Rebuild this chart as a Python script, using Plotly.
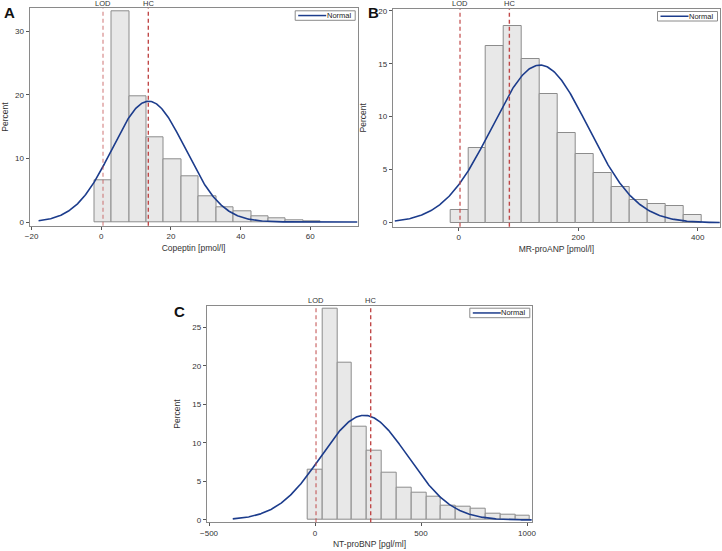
import numpy as np
import plotly.graph_objects as go

W, H = 722, 551

# ---------------- data ----------------
# Panel A: Copeptin
a_centers = [0.5, 5.5, 10.5, 15.5, 20.5, 25.5, 30.5, 35.5, 40.5, 45.5, 50.5, 55.5, 60.5]
a_percent = [6.54, 33.2, 19.7, 13.3, 9.84, 7.2, 4.03, 2.3, 1.68, 0.94, 0.58, 0.31, 0.16]
a_binw = 5
a_mean, a_sd = 13.6, 10.5
a_lod, a_hc = 0.5, 13.5

# Panel B: MR-proANP
b_centers = [1, 31, 61, 91, 121, 151, 181, 211, 241, 271, 301, 331, 361, 391]
b_percent = [1.16, 7.01, 16.63, 18.55, 15.41, 12.1, 8.43, 6.45, 4.65, 3.4, 2.1, 1.73, 1.54, 0.69]
b_binw = 30
b_mean, b_sd = 136, 80.5
b_lod, b_hc = 2.2, 84.8

# Panel C: NT-proBNP
c_centers = [0, 70, 140, 210, 280, 350, 420, 490, 560, 630, 700, 770, 840, 910, 980]
c_percent = [6.57, 27.46, 20.37, 12.07, 9.0, 6.1, 4.2, 3.5, 3.07, 1.9, 1.77, 1.51, 0.87, 0.74, 0.61]
c_binw = 70
c_mean, c_sd = 232.7, 205.6
c_lod, c_hc = 4.7, 262.6

panels = [
    dict(key="", centers=a_centers, pct=a_percent, w=a_binw, mean=a_mean, sd=a_sd,
         lod=a_lod, hc=a_hc, xr=[-20.6, 73.6], yr=[-0.58, 33.6], curve=[-18, 73.5],
         xdtick=20, ydtick=10, xtitle="Copeptin [pmol/l]", letter="A",
         px=(29.5, 357.7), py=(8.3, 225.7), lod_op=0.55, letpos=(1.5, 2)),
    dict(key="2", centers=b_centers, pct=b_percent, w=b_binw, mean=b_mean, sd=b_sd,
         lod=b_lod, hc=b_hc, xr=[-110.5, 437.4], yr=[-0.38, 20.16], curve=[-107, 437],
         xdtick=200, ydtick=5, xtitle="MR-proANP [pmol/l]", letter="B",
         px=(392.7, 720.0), py=(9.0, 226.7), lod_op=0.85, letpos=(365.5, 2)),
    dict(key="3", centers=c_centers, pct=c_percent, w=c_binw, mean=c_mean, sd=c_sd,
         lod=c_lod, hc=c_hc, xr=[-511, 1025], yr=[-0.30, 27.81], curve=[-388, 1022],
         xdtick=500, ydtick=5, xtitle="NT-proBNP [pgl/ml]", letter="C",
         px=(206.7, 532.3), py=(305.7, 522.3), lod_op=0.7, letpos=(171.5, 301)),
]

RED = "192,72,72"
NAVY = "#1c3c8c"
FONT = "Liberation Sans, Arial, sans-serif"

fig = go.Figure()
shapes, annotations = [], []
layout = {}

for i, p in enumerate(panels):
    k = p["key"]
    xa, ya = "x" + k, "y" + k
    fig.add_trace(go.Bar(
        x=p["centers"], y=p["pct"], width=p["w"],
        marker=dict(color="#e8e8e8", line=dict(color="#8c8c8c", width=1)),
        xaxis=xa, yaxis=ya, showlegend=False, hoverinfo="skip"))
    xs = np.linspace(p["curve"][0], p["curve"][1], 400)
    ys = 100 * p["w"] / (p["sd"] * np.sqrt(2 * np.pi)) * np.exp(-0.5 * ((xs - p["mean"]) / p["sd"]) ** 2)
    fig.add_trace(go.Scatter(
        x=xs, y=ys, mode="lines", name="Normal",
        line=dict(color=NAVY, width=1.6),
        xaxis=xa, yaxis=ya, showlegend=False))

    x0, x1 = p["px"]
    y0, y1 = p["py"]
    dom_x = [x0 / W, x1 / W]
    dom_y = [1 - y1 / H, 1 - y0 / H]
    axcommon = dict(showgrid=False, zeroline=False, showline=True, mirror=True, automargin=False,
                    linecolor="#8a8a8a", linewidth=1, ticks="outside", ticklen=3,
                    tickcolor="#555", tickfont=dict(size=8, color="#333", family=FONT))
    layout["xaxis" + k] = dict(domain=dom_x, range=p["xr"], dtick=p["xdtick"],
                               anchor=ya, title=dict(text=p["xtitle"], standoff=4,
                                                     font=dict(size=8.5, color="#333", family=FONT)),
                               **axcommon)
    layout["yaxis" + k] = dict(domain=dom_y, range=p["yr"], dtick=p["ydtick"],
                               anchor=xa, title=dict(text="Percent", standoff=10,
                                                     font=dict(size=8.5, color="#333", family=FONT)),
                               **axcommon)

    # legend box (drawn in paper pixels)
    lx1 = x1 - 2.5
    lx0 = lx1 - 60
    ly0 = y0 + 2.5
    ly1 = ly0 + 9.5
    shapes.append(dict(type="rect", xref="paper", yref="paper",
                       x0=lx0 / W, x1=lx1 / W, y0=1 - ly1 / H, y1=1 - ly0 / H,
                       line=dict(color="#8a8a8a", width=1), fillcolor="white", layer="above"))
    shapes.append(dict(type="line", xref="paper", yref="paper",
                       x0=(lx0 + 3) / W, x1=(lx0 + 31) / W, y0=1 - (ly0 + ly1) / 2 / H, y1=1 - (ly0 + ly1) / 2 / H,
                       line=dict(color=NAVY, width=1.5), layer="above"))
    annotations.append(dict(xref="paper", yref="paper", x=(lx1 - 1.5) / W, y=1 - (ly0 + ly1) / 2 / H,
                            xanchor="right", yanchor="middle", showarrow=False, text="Normal",
                            font=dict(size=7.5, color="#222", family=FONT)))

    for val, lab, op in [(p["lod"], "LOD", p["lod_op"]), (p["hc"], "HC", 1.0)]:
        shapes.append(dict(type="line", xref=xa, yref=ya + " domain", x0=val, x1=val, y0=0, y1=1,
                           line=dict(color=f"rgba({RED},{op})", width=1.4, dash="4px,3px")))
        annotations.append(dict(xref=xa, yref=ya + " domain", x=val, y=1, yanchor="bottom",
                                showarrow=False, text=lab, yshift=-1.5,
                                font=dict(size=7.5, color="#333", family=FONT)))
    annotations.append(dict(xref="paper", yref="paper", x=p["letpos"][0] / W, y=1 - p["letpos"][1] / H,
                            xanchor="left", yanchor="top", showarrow=False, text="<b>" + p["letter"] + "</b>",
                            font=dict(size=15, color="#111", family=FONT)))

fig.update_layout(
    width=W, height=H, margin=dict(l=0, r=0, t=0, b=0),
    paper_bgcolor="white", plot_bgcolor="white",
    shapes=shapes, annotations=annotations, bargap=0,
    **layout)

fig.write_html("out.html", config={"displayModeBar": False},
               post_script="document.body.style.margin='0';")
